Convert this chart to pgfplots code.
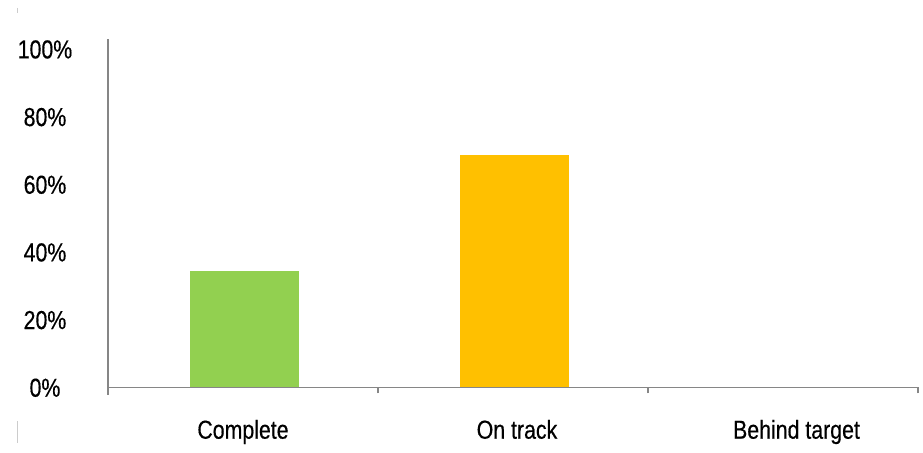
\documentclass[border=0pt]{standalone}
\usepackage{fontspec}
\setmainfont{Liberation Sans}[FakeStretch=0.82, FakeBold=0.4]
\usepackage{pgfplots}
\pgfplotsset{compat=1.18}
\definecolor{axisgray}{HTML}{868686}
\definecolor{donegreen}{HTML}{92D050}
\definecolor{trackorange}{HTML}{FFC000}

\begin{document}
\fontsize{26pt}{30pt}\selectfont
\begin{tikzpicture}
\begin{axis}[
  at={(0,0)}, anchor=south west,
  scale only axis, width=810pt, height=347.8pt,
  xmin=0.5, xmax=3.5, ymin=0, ymax=100,
  axis x line*=bottom, axis y line*=left,
  axis line style={axisgray, line width=1.2pt},
  y axis line style={shorten <=-7.7pt},
  tick align=outside, major tick length=6pt, minor tick length=6pt,
  xtick={1,2,3},
  xticklabels={Complete, \hspace*{8pt}On track, \hspace*{27pt}Behind target},
  major x tick style={draw=none},
  minor xtick={0.5,1.5,2.5,3.5},
  minor x tick style={axisgray, line width=1.2pt},
  xticklabel style={anchor=base, yshift=-45.4pt},
  ytick={0,20,...,100},
  yticklabel={\pgfmathprintnumber{\tick}\%},
  ytick style={draw=none},
  yticklabel style={anchor=base, xshift=-57pt, yshift={-9.4pt-0.095pt*\tick}},
  /pgf/number format/assume math mode=true,
  ybar, bar width=0.407, bar shift=1.5pt,
  clip=false,
]
\addplot[draw=none, fill=donegreen] coordinates {(1,33.3)};
\addplot[draw=none, fill=trackorange] coordinates {(2,66.7)};
\addplot[draw=none, fill=none] coordinates {(3,0)};
\end{axis}
\draw[gray!40, line width=0.8pt] (-91pt,379.3pt) -- (-91pt,374.3pt);
\draw[gray!40, line width=0.8pt] (-91pt,-33.7pt) -- (-91pt,-55.7pt);
\path[use as bounding box] (-108pt,-56.7pt) rectangle (815pt,387.3pt);
\end{tikzpicture}
\end{document}
